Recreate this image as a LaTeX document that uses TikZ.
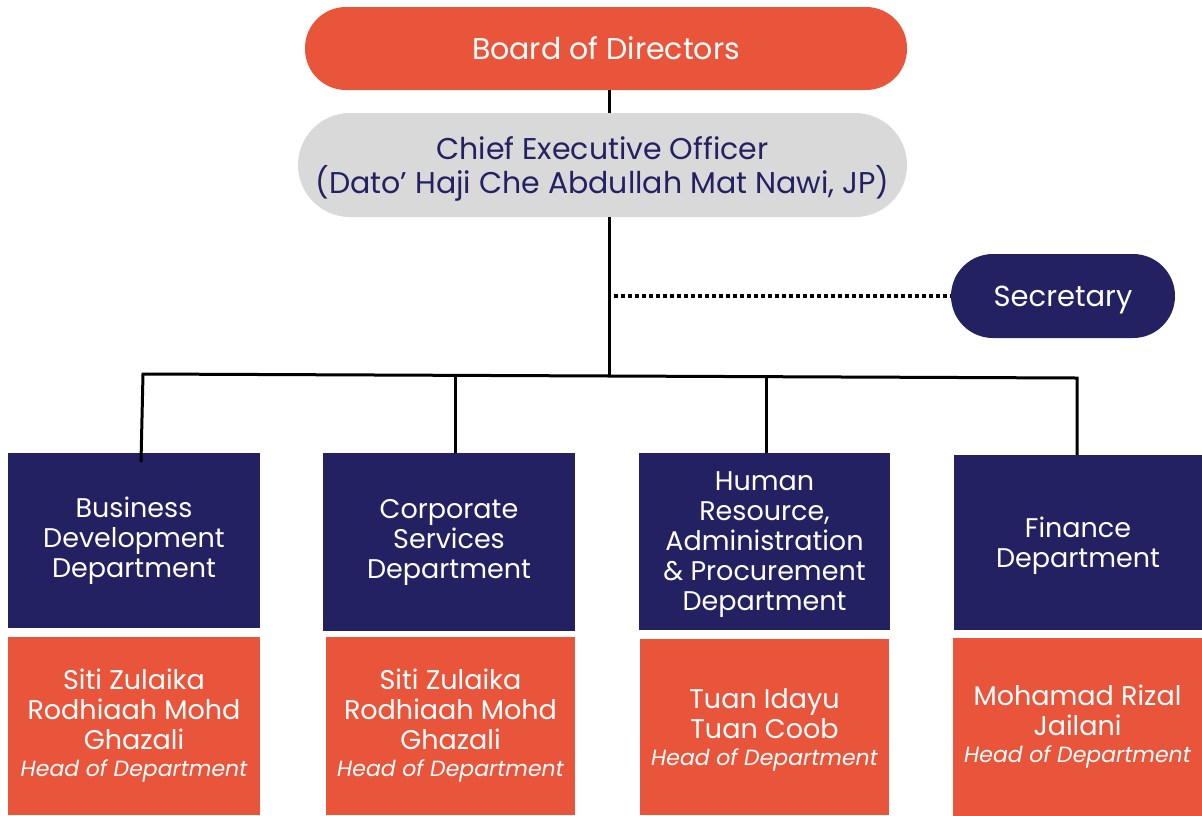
\documentclass[tikz,border=0pt]{standalone}
\usepackage{fontspec}
\setmainfont{Poppins}
\definecolor{orng}{HTML}{E9553A}
\definecolor{navy}{HTML}{232161}
\definecolor{lgray}{HTML}{D9D9D9}
\newcommand{\hodline}{{\fontsize{22}{26}\selectfont\itshape Head of Department}}
\begin{document}
\begin{tikzpicture}[x=1pt,y=-1pt,
  pill/.style={rounded corners=#1, inner sep=0pt, align=center},
  deptbox/.style={fill=navy, text=white, inner sep=0pt, align=center, font=\fontsize{27}{30}\selectfont},
  headbox/.style={fill=orng, text=white, inner sep=0pt, align=center, font=\fontsize{27}{30}\selectfont},
  link/.style={draw=black, line width=3pt}
]
\useasboundingbox (0,0) rectangle (1202,815);
% top pills
\node[pill=41pt, fill=orng, text=white, minimum width=602pt, minimum height=83pt,
  font=\fontsize{30}{34}\selectfont] (board) at (606,48.5) {Board of Directors};
\node[pill=52pt, fill=lgray, text=navy, minimum width=609pt, minimum height=104pt, text depth=0pt,
  font=\fontsize{30}{34}\selectfont] (ceo) at (602.5,165) {Chief Executive Officer\\(Dato’ Haji Che Abdullah Mat Nawi, JP)};
\node[pill=42pt, fill=navy, text=white, minimum width=224pt, minimum height=84pt, text depth=0pt,
  font=\fontsize{29}{30}\selectfont] (sec) at (1063,296) {Secretary};
% department boxes
\node[deptbox, minimum width=252pt, minimum height=175pt] (d1) at (134,540.5) {Business\\Development\\Department};
\node[deptbox, minimum width=252pt, minimum height=178pt] (d2) at (449,542) {Corporate\\Services\\Department};
\node[deptbox, minimum width=251pt, minimum height=177pt, text depth=0pt] (d3) at (764.5,541.5) {Human\\Resource,\\Administration\\\&\ Procurement\\Department};
\node[deptbox, minimum width=248pt, minimum height=175pt, text depth=0pt] (d4) at (1078,542.5) {Finance\\Department};
% heads
\node[headbox, minimum width=252pt, minimum height=178pt] (h1) at (134,726) {Siti Zulaika\\Rodhiaah Mohd\\Ghazali\\[-3pt]\hodline};
\node[headbox, minimum width=249pt, minimum height=178pt] (h2) at (450.5,726) {Siti Zulaika\\Rodhiaah Mohd\\Ghazali\\[-3pt]\hodline};
\node[headbox, minimum width=249pt, minimum height=176pt, text depth=0pt] (h3) at (764.5,727) {Tuan Idayu\\Tuan Coob\\[-3pt]\hodline};
\node[headbox, minimum width=249pt, minimum height=178pt] (h4) at (1077.5,727) {Mohamad Rizal\\Jailani\\[-3pt]\hodline};
% connectors
\coordinate (bus) at (609,375);
\coordinate (j1) at (143,374);
\coordinate (j2) at (455,377);
\coordinate (j3) at (766,376.5);
\coordinate (j4) at (1077,378);
\coordinate (secl) at (614,296);
\coordinate (d1in) at (141,462);
\draw[link] (board.south -| bus) -- (ceo.north -| bus);
\draw[link] (ceo.south -| bus) -- (bus);
\draw[link] (d1in) -- (j1) -- (j4) -- (d4.north -| j4);
\draw[link] (j2) -- (d2.north -| j2);
\draw[link] (j3) -- (d3.north -| j3);
\draw[line width=3.5pt, dash pattern=on 3.5pt off 3.5pt] (secl) -- (sec.west);
\end{tikzpicture}
\end{document}
